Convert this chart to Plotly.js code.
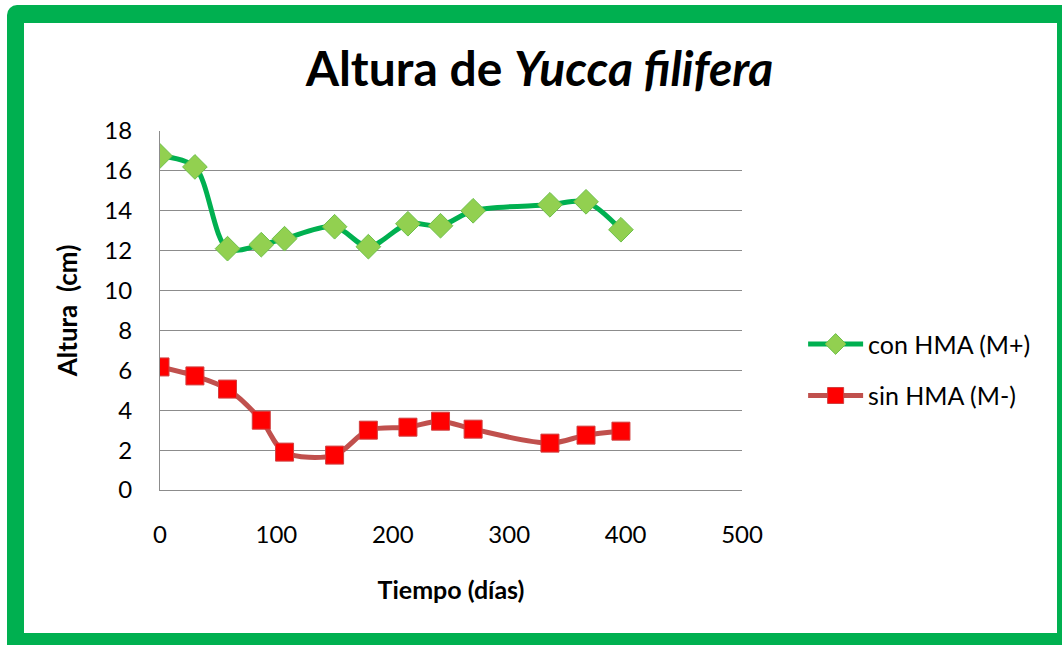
<!DOCTYPE html>
<html>
<head>
<meta charset="utf-8">
<script src="https://cdn.plot.ly/plotly-3.0.1.min.js"></script>
<style>
  html, body { margin: 0; padding: 0; width: 1062px; height: 645px; overflow: hidden; background: #ffffff; }
  #frame { position: absolute; left: 7px; top: 5px; width: 1075px; height: 660px; background: #00B050; border-radius: 10px; }
  #inner { position: absolute; left: 24px; top: 23px; width: 1033px; height: 610px; background: #ffffff; }
  #chart { position: absolute; left: 0; top: 0; width: 1062px; height: 645px; }
</style>
</head>
<body>
<div id="frame"></div>
<div id="inner"></div>
<div id="chart"></div>
<script>
const dias = [0, 30, 58, 87, 107, 150, 179, 213, 241, 269, 335, 366, 396];
const conHMA = [16.75, 16.2, 12.1, 12.3, 12.6, 13.2, 12.2, 13.35, 13.25, 14.0, 14.3, 14.45, 13.05];
const sinHMA = [6.17, 5.72, 5.06, 3.5, 1.9, 1.75, 3.0, 3.15, 3.45, 3.05, 2.35, 2.75, 2.95];
const xTicks = [0, 100, 200, 300, 400, 500];
const yTicks = [0, 2, 4, 6, 8, 10, 12, 14, 16, 18];

const FONT = 'Lato, "Open Sans", sans-serif';

const traces = [
  {
    x: dias, y: conHMA, name: 'con HMA (M+)', type: 'scatter', mode: 'lines+markers',
    legendgroup: 'a',
    line: { color: '#00B050', width: 5, shape: 'spline', smoothing: 0.9 },
    marker: { symbol: 'diamond', size: 19, color: '#92D050', line: { color: '#6CC04A', width: 1 } }
  },
  {
    x: dias, y: sinHMA, name: 'sin HMA (M-)', type: 'scatter', mode: 'lines+markers',
    legendgroup: 'b',
    line: { color: '#C0504D', width: 5, shape: 'spline', smoothing: 0.9 },
    marker: { symbol: 'square', size: 18, color: '#FF0000', line: { color: '#D04040', width: 1 } }
  }
];

const layout = {
  width: 1062, height: 645,
  paper_bgcolor: 'rgba(0,0,0,0)', plot_bgcolor: 'rgba(0,0,0,0)',
  margin: { l: 160, r: 320, t: 131, b: 155 },
  font: { family: FONT, color: '#000000', size: 24 },
  title: {
    text: 'Altura de <i>Yucca filifera</i>',
    font: { family: FONT, size: 48, color: '#000000', weight: 'bold' },
    x: 0.508, xanchor: 'center', y: 0.893, yanchor: 'middle'
  },
  xaxis: {
    range: [0, 500], tickvals: xTicks, ticktext: xTicks.map(String),
    showgrid: false, zeroline: false, showline: true, linecolor: '#8C8C8C', linewidth: 1,
    ticks: '', tickfont: { size: 24, family: FONT }, ticklabelstandoff: 23,
    title: { text: '<b>Tiempo (días)</b>', font: { size: 25, family: FONT }, standoff: 34 }
  },
  yaxis: {
    range: [0, 18], tickvals: yTicks, ticktext: yTicks.map(String),
    showgrid: true, gridcolor: '#8C8C8C', gridwidth: 1, zeroline: false,
    showline: true, linecolor: '#8C8C8C', linewidth: 1,
    ticks: '', tickfont: { size: 24, family: FONT }, ticklabelstandoff: 22,
    title: { text: '<b>Altura  (cm)</b>', font: { size: 26, family: FONT }, standoff: 19 }
  },
  showlegend: true,
  legend: {
    x: 1.105, y: 0.335, xanchor: 'left', yanchor: 'middle',
    font: { size: 25, family: FONT }, bgcolor: 'rgba(0,0,0,0)',
    traceorder: 'grouped', tracegroupgap: 16, itemwidth: 55
  }
};

Plotly.newPlot('chart', traces, layout, { displayModeBar: false, staticPlot: true });
</script>
</body>
</html>
